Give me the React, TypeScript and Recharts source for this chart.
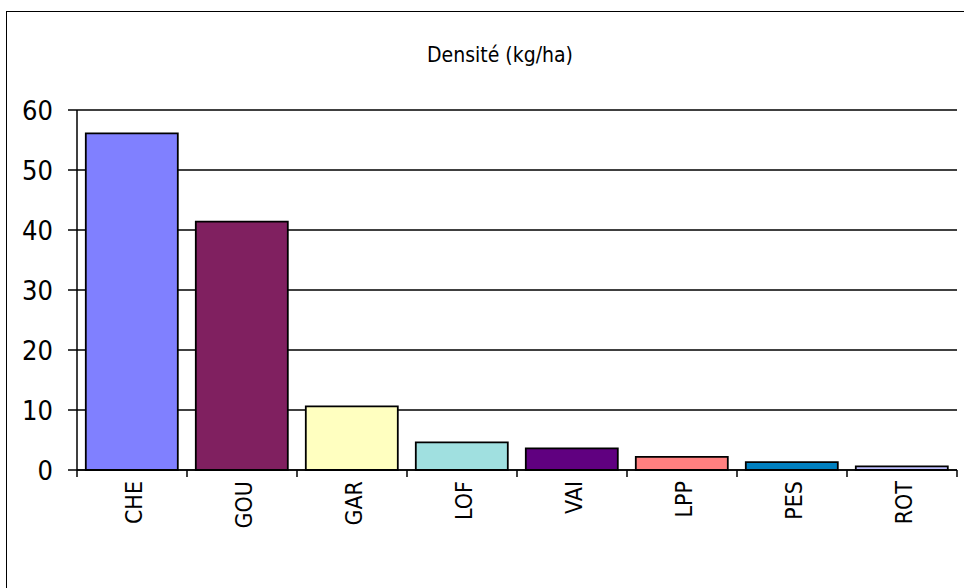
import React from "react";
import { BarChart, Bar, XAxis, YAxis, CartesianGrid, Cell } from "recharts";

const categories = ["CHE", "GOU", "GAR", "LOF", "VAI", "LPP", "PES", "ROT"];
const values = [56.1, 41.4, 10.6, 4.6, 3.6, 2.2, 1.3, 0.6];
const colors = ["#8080FF", "#802060", "#FFFFC0", "#A0E0E0", "#600080", "#FF8080", "#0080C0", "#C0C0FF"];
const yTicks = [0, 10, 20, 30, 40, 50, 60];
const title = "Densité (kg/ha)";

const data = categories.map((c, i) => ({ name: c, value: values[i] }));

const W = 964;
const H = 588;
const MARGIN = { top: 110, right: 7, left: 0, bottom: 0 };
const Y_AXIS_W = 77;
const X_AXIS_H = 118;
const X_TICK_SIZE = 7;
const X_TICK_MARGIN = 4;
const FONT = "'DejaVu Sans Condensed', 'DejaVu Sans', Verdana, sans-serif";

const plotWidth = W - MARGIN.left - MARGIN.right - Y_AXIS_W;
const halfBand = plotWidth / categories.length / 2;

const XTick = (props: any) => {
  const { x, y, payload, index } = props;
  const y0 = y - X_TICK_SIZE - X_TICK_MARGIN;
  const last = index === categories.length - 1;
  return (
    <g>
      <line x1={x - halfBand} x2={x - halfBand} y1={y0} y2={y0 + X_TICK_SIZE} stroke="#000" strokeWidth={1.5} />
      {last && (
        <line x1={x + halfBand} x2={x + halfBand} y1={y0} y2={y0 + X_TICK_SIZE} stroke="#000" strokeWidth={1.5} />
      )}
      <text
        x={x}
        y={y}
        dy={2}
        transform={`rotate(-90, ${x}, ${y})`}
        textAnchor="end"
        dominantBaseline="central"
        fontFamily={FONT}
        fontSize={23}
        fill="#000"
      >
        {payload.value}
      </text>
    </g>
  );
};

export default function App() {
  return (
    <div style={{ position: "absolute", left: 0, top: 0, width: W, height: H, background: "#fff", overflow: "hidden" }}>
      <div
        style={{
          position: "absolute",
          left: 6,
          top: 11,
          width: W,
          height: H,
          borderLeft: "1px solid #000",
          borderTop: "1px solid #000",
        }}
      />
      <div
        style={{
          position: "absolute",
          left: 0,
          width: 1000,
          top: 43,
          textAlign: "center",
          fontFamily: FONT,
          fontSize: 21,
          lineHeight: "24px",
          color: "#000",
        }}
      >
        {title}
      </div>
      <div style={{ position: "absolute", left: 0, top: 0 }}>
        <BarChart width={W} height={H} data={data} margin={MARGIN} barCategoryGap="8%">
          <CartesianGrid vertical={false} stroke="#000" strokeWidth={1.5} strokeOpacity={1} />
          <XAxis
            dataKey="name"
            height={X_AXIS_H}
            interval={0}
            tickLine={false}
            tickSize={X_TICK_SIZE}
            tickMargin={X_TICK_MARGIN}
            axisLine={{ stroke: "#000", strokeWidth: 1.5 }}
            tick={<XTick />}
          />
          <YAxis
            width={Y_AXIS_W}
            domain={[0, 60]}
            ticks={yTicks}
            interval={0}
            tickSize={9}
            tickMargin={15}
            axisLine={{ stroke: "#000", strokeWidth: 1.5 }}
            tickLine={{ stroke: "#000", strokeWidth: 1.5 }}
            tick={{ fill: "#000", fontSize: 27, fontFamily: FONT }}
          />
          <Bar dataKey="value" isAnimationActive={false} stroke="#000" strokeWidth={1.8}>
            {data.map((d, i) => (
              <Cell key={d.name} fill={colors[i]} />
            ))}
          </Bar>
        </BarChart>
      </div>
    </div>
  );
}
